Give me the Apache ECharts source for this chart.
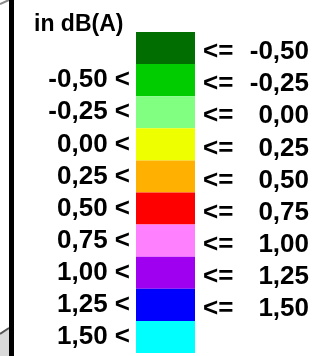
<!DOCTYPE html>
<html>
<head>
<meta charset="utf-8">
<script src="https://cdn.jsdelivr.net/npm/echarts@6/dist/echarts.min.js"></script>
<style>
  html, body { margin: 0; padding: 0; background: #fff; }
  #chart { width: 327px; height: 356px; }
</style>
</head>
<body>
<div id="chart"></div>
<script>
// class bounds (dB(A)), top to bottom
const bounds = ["-0,50", "-0,25", "0,00", "0,25", "0,50", "0,75", "1,00", "1,25", "1,50"];
const classColors = [
  "#006e00", "#00cc00", "#80ff80", "#eeff00", "#ffb000",
  "#ff0000", "#ff80ff", "#a000f0", "#0000ff", "#00ffff"
];
const rows = classColors.map((c, i) => "k" + i);
const swatch = classColors.map(() => 1);

const chart = echarts.init(document.getElementById("chart"));
const font = "'Liberation Sans', Arial, sans-serif";

chart.setOption({
  animation: false,
  title: {
    text: "in dB(A)",
    left: 29,
    top: 8,
    textStyle: { fontFamily: font, fontSize: 23, fontWeight: "bold", color: "#000" }
  },
  grid: { left: 136, right: 132, top: 32, bottom: 3 },
  xAxis: { type: "value", min: 0, max: 1, show: false },
  yAxis: [
    {
      type: "category",
      data: rows,
      inverse: true,
      axisLine: { show: false },
      axisTick: { show: false },
      axisLabel: {
        interval: 0,
        hideOverlap: false,
        margin: 6,
        padding: [8, 0, 0, 0],
        fontFamily: font,
        fontSize: 26,
        fontWeight: "bold",
        color: "#000",
        formatter: (v, i) => (i > 0 ? bounds[i - 1] + " <" : "")
      }
    },
    {
      type: "category",
      data: rows,
      inverse: true,
      position: "right",
      axisLine: { show: false },
      axisTick: { show: false },
      axisLabel: {
        interval: 0,
        hideOverlap: false,
        margin: 8,
        padding: [8, 0, 0, 0],
        fontFamily: font,
        fontSize: 26,
        fontWeight: "bold",
        color: "#000",
        formatter: (v, i) => (i < bounds.length ? "{a|<=}{b|" + bounds[i] + "}" : ""),
        rich: {
          a: { width: 40, align: "left", fontFamily: font, fontSize: 26, fontWeight: "bold", color: "#000" },
          b: { width: 66, align: "right", fontFamily: font, fontSize: 26, fontWeight: "bold", color: "#000" }
        }
      }
    }
  ],
  series: [
    {
      type: "bar",
      barWidth: "100%",
      data: swatch.map((v, i) => ({ value: v, itemStyle: { color: classColors[i] } })),
      silent: true
    }
  ],
  graphic: [
    // bits of the frame behind the legend
    { type: "polygon", shape: { points: [[0, 333], [9, 327], [9, 356], [0, 356]] }, style: { fill: "#d9d9d9" } },
    { type: "line", shape: { x1: 0, y1: 334, x2: 9, y2: 328 }, style: { stroke: "#555", lineWidth: 2 } },
    { type: "line", shape: { x1: 0, y1: 4, x2: 9, y2: 0 }, style: { stroke: "#888", lineWidth: 2 } },
    { type: "rect", shape: { x: 9, y: 0, width: 5, height: 356 }, style: { fill: "#000" } }
  ]
});
</script>
</body>
</html>
